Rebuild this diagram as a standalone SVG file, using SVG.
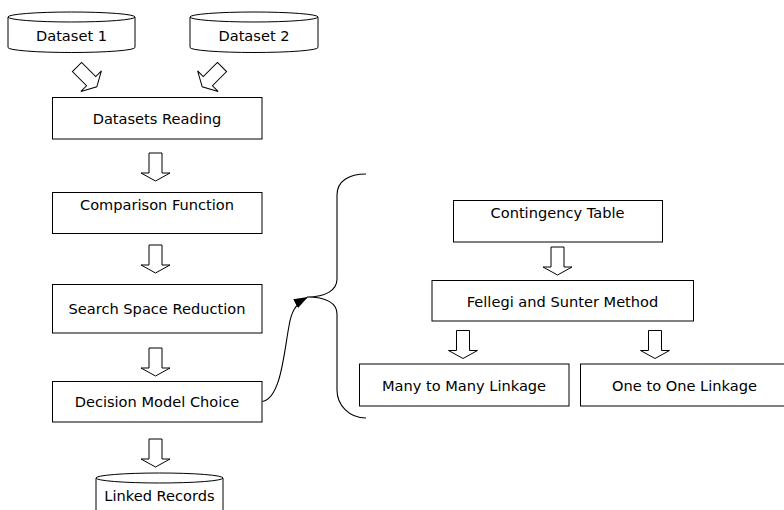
<svg xmlns="http://www.w3.org/2000/svg" xmlns:xlink="http://www.w3.org/1999/xlink" width="784" height="510" viewBox="0 0 784 510">
  <style>
    .box { fill: #ffffff; stroke: #000000; stroke-width: 1; }
    .cyl { fill: #ffffff; stroke: #000000; stroke-width: 1; }
    .lbl { font-family: "DejaVu Sans", "Liberation Sans", sans-serif; font-size: 14.6px; fill: #000000; text-anchor: middle; }
    .flow { fill: #ffffff; stroke: #000000; stroke-width: 1; stroke-linejoin: miter; }
    .edge { fill: none; stroke: #000000; stroke-width: 1.1; }
  </style>
  <defs>
    <!-- hollow block arrow, tail centre at origin, pointing along +y -->
    <path id="blockArrow" class="flow" d="M -6.5 0 H 6.5 V 20 H 14.5 L 0 28 L -14.5 20 H -6.5 Z"/>
    <marker id="solidHead" viewBox="0 0 14 10" refX="13" refY="5" markerWidth="14" markerHeight="10" markerUnits="userSpaceOnUse" orient="auto">
      <path d="M 0 0 L 14 5 L 0 10 Z" fill="#000000"/>
    </marker>
  </defs>
  <rect width="784" height="510" fill="#ffffff"/>

  <!-- inputs -->
  <g id="dataset1">
    <path class="cyl" d="M 8 17 V 47.5 A 63.5 5 0 0 0 135 47.5 V 17"/>
    <ellipse class="cyl" cx="71.5" cy="17" rx="63.5" ry="5"/>
    <text class="lbl" x="71.5" y="41">Dataset 1</text>
  </g>
  <g id="dataset2">
    <path class="cyl" d="M 190 17 V 47.5 A 64 5 0 0 0 318 47.5 V 17"/>
    <ellipse class="cyl" cx="254" cy="17" rx="64" ry="5"/>
    <text class="lbl" x="254" y="41">Dataset 2</text>
  </g>

  <!-- main pipeline -->
  <g id="datasetsReading">
    <rect class="box" x="52.5" y="97.5" width="209.5" height="41.5"/>
    <text class="lbl" x="157" y="124">Datasets Reading</text>
  </g>
  <g id="comparisonFunction">
    <rect class="box" x="52.5" y="192.5" width="209.5" height="41"/>
    <text class="lbl" x="157" y="210">Comparison Function</text>
  </g>
  <g id="searchSpaceReduction">
    <rect class="box" x="52.5" y="284.5" width="209.5" height="48.5"/>
    <text class="lbl" x="157" y="314">Search Space Reduction</text>
  </g>
  <g id="decisionModelChoice">
    <rect class="box" x="52.5" y="381.5" width="209.5" height="40.5"/>
    <text class="lbl" x="157" y="406.5">Decision Model Choice</text>
  </g>
  <g id="linkedRecords">
    <path class="cyl" d="M 96 478 V 520 H 223 V 478"/>
    <ellipse class="cyl" cx="159.5" cy="478" rx="63.5" ry="5"/>
    <text class="lbl" x="159.5" y="500.5">Linked Records</text>
  </g>

  <!-- decision model detail -->
  <g id="contingencyTable">
    <rect class="box" x="453.5" y="200.5" width="209" height="41.5"/>
    <text class="lbl" x="557.5" y="218.3">Contingency Table</text>
  </g>
  <g id="fellegiSunter">
    <rect class="box" x="432" y="280.5" width="261.5" height="40.5"/>
    <text class="lbl" x="562.5" y="306.5">Fellegi and Sunter Method</text>
  </g>
  <g id="manyToMany">
    <rect class="box" x="359.5" y="364" width="209.5" height="42"/>
    <text class="lbl" x="464" y="391">Many to Many Linkage</text>
  </g>
  <g id="oneToOne">
    <rect class="box" x="580.5" y="364" width="210" height="42"/>
    <text class="lbl" x="684.5" y="391">One to One Linkage</text>
  </g>

  <!-- connectors -->
  <g id="connectors">
    <use xlink:href="#blockArrow" transform="translate(77 67) rotate(-45)"/>
    <use xlink:href="#blockArrow" transform="translate(222 67) rotate(45)"/>
    <use xlink:href="#blockArrow" transform="translate(155.5 153)"/>
    <use xlink:href="#blockArrow" transform="translate(155.5 245)"/>
    <use xlink:href="#blockArrow" transform="translate(155.5 348)"/>
    <use xlink:href="#blockArrow" transform="translate(155.5 439)"/>
    <use xlink:href="#blockArrow" transform="translate(557.5 247)"/>
    <use xlink:href="#blockArrow" transform="translate(463 330.5)"/>
    <use xlink:href="#blockArrow" transform="translate(655 330.5)"/>
    <!-- brace grouping the decision model detail -->
    <path class="edge" d="M 366 174 C 349 174 337 181 337 195 V 279 C 337 290 326 297 307 297 C 326 297 337 303 337 314 V 390 C 337 405 349 418 366 418"/>
    <path class="edge" d="M 262.5 401.5 C 281 398 284 352 289 326 C 291 313 295 304 307 297.5" marker-end="url(#solidHead)"/>
  </g>
</svg>
